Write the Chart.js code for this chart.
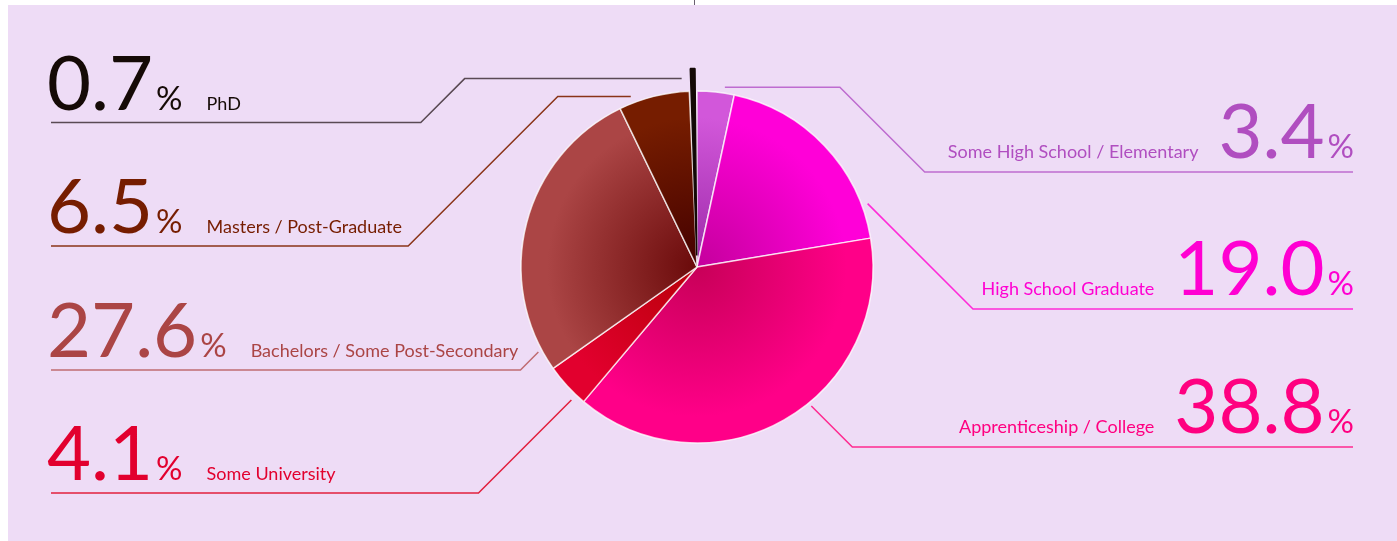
<!DOCTYPE html>
<html>
<head>
<meta charset="utf-8">
<script src="https://cdn.jsdelivr.net/npm/chart.js@4/dist/chart.umd.min.js"></script>
<style>
  html, body { margin: 0; padding: 0; background: #fff; }
  #edu-chart { display: block; }
</style>
</head>
<body>
<canvas id="edu-chart" width="1397" height="541"></canvas>
<script>
// education levels, clockwise from 12 o'clock
const categories = [
  'Some High School / Elementary',
  'High School Graduate',
  'Apprenticeship / College',
  'Some University',
  'Bachelors / Some Post-Secondary',
  'Masters / Post-Graduate',
  'PhD',
];
const shares = [3.4, 19.0, 38.8, 4.1, 27.6, 6.5, 0.7];

// slice colours: outer rim and the darker tone at the centre
const sliceColors = ['#d257da', '#ff00d8', '#ff0088', '#e2002e', '#ab4545', '#761d00', '#140a06'];
const sliceInner = ['#9c2aa8', '#c4009c', '#c80058', '#b80008', '#6a0a0a', '#440000', '#000000'];
const sliceBorders = ['rgba(255,255,255,0.75)', 'rgba(255,255,255,0.75)', 'rgba(255,255,255,0.75)',
  'rgba(255,255,255,0.75)', 'rgba(255,255,255,0.75)', 'rgba(255,255,255,0.75)', '#140a06'];
const textColors = ['#b04ec0', '#ff00d2', '#ff0080', '#e2002e', '#ab4545', '#761d00', '#150a06'];
const lineColors = ['#be6cd0', '#ff2ad8', '#ff2a90', '#e2203e', '#c06c72', '#8a3418', '#5a4a54'];

// callout layout: side, underline row, where the leader touches the slice, horizontal stub
const callouts = [
  { side: 'right', row: 172, frac: 0.72, gap: 6, stub: 115 },
  { side: 'right', row: 309, frac: 0.84, gap: 6, stub: 0 },
  { side: 'right', row: 447, frac: 0.43, gap: 4, stub: 0 },
  { side: 'left', row: 493, frac: 0.22, gap: 7, stub: 0 },
  { side: 'left', row: 370, frac: 0.07, gap: 4, stub: 0 },
  { side: 'left', row: 246, frac: 0.2, gap: 7, stub: 73 },
  { side: 'left', row: 122.5, frac: -0.85, gap: 13, stub: 217 },
];

const PIE_RADIUS = 176;
const NUM_FONT = '400 76px Lato';
const PCT_FONT = '400 33px Lato';
const LABEL_FONT = '400 18px Lato';

const backdrop = {
  id: 'backdrop',
  beforeDraw(chart) {
    const c = chart.ctx;
    c.save();
    c.fillStyle = '#ffffff';
    c.fillRect(0, 0, chart.width, chart.height);
    c.fillStyle = '#eedcf6';
    c.fillRect(8, 5, chart.width - 8, chart.height - 5);
    c.fillStyle = '#6a6070';
    c.fillRect(694, 0, 1, 5);
    c.restore();
  },
};

const calloutLabels = {
  id: 'calloutLabels',
  afterDraw(chart) {
    const c = chart.ctx;
    const arcs = chart.getDatasetMeta(0).data;
    c.save();
    arcs.forEach((arc, i) => {
      const co = callouts[i];
      const a = arc.startAngle + co.frac * (arc.endAngle - arc.startAngle);
      const r = arc.outerRadius + co.gap;
      const ax = arc.x + r * Math.cos(a);
      const ay = arc.y + r * Math.sin(a);
      const dir = co.side === 'left' ? -1 : 1;
      const sx = ax + dir * co.stub;
      const ex = sx + dir * Math.abs(co.row - ay);

      // leader line
      c.strokeStyle = lineColors[i];
      c.lineWidth = 1.5;
      c.beginPath();
      c.moveTo(ax, ay);
      c.lineTo(sx, ay);
      c.lineTo(ex, co.row);
      c.lineTo(co.side === 'left' ? 51 : 1353, co.row);
      c.stroke();

      // value, percent sign and category name
      const num = shares[i].toFixed(1);
      c.fillStyle = textColors[i];
      c.textBaseline = 'alphabetic';
      c.textAlign = 'left';
      c.font = NUM_FONT;
      const numW = c.measureText(num).width;
      c.font = PCT_FONT;
      const pctW = c.measureText('%').width;
      c.font = LABEL_FONT;
      const labW = c.measureText(categories[i]).width;

      if (co.side === 'left') {
        const base = co.row - 13;
        let x = 47;
        c.font = NUM_FONT;
        c.fillText(num, x, base);
        x += numW + 3;
        c.font = PCT_FONT;
        c.fillText('%', x, base);
        x += pctW + 24;
        c.font = LABEL_FONT;
        c.fillText(categories[i], x, base);
      } else {
        const base = co.row - 14;
        let x = 1354 - pctW;
        c.font = PCT_FONT;
        c.fillText('%', x, base);
        x -= numW + 3;
        c.font = NUM_FONT;
        c.fillText(num, x, base);
        x -= labW + 20;
        c.font = LABEL_FONT;
        c.fillText(categories[i], x, base);
      }
    });
    c.restore();
  },
};

function sliceFill(ctx) {
  const i = ctx.dataIndex;
  const area = ctx.chart.chartArea;
  if (!area || i === undefined) return sliceColors[i] || '#000';
  const cx = (area.left + area.right) / 2;
  const cy = (area.top + area.bottom) / 2;
  const g = ctx.chart.ctx.createRadialGradient(cx, cy, 0, cx, cy, PIE_RADIUS * 0.85);
  g.addColorStop(0, sliceInner[i]);
  g.addColorStop(1, sliceColors[i]);
  return g;
}

new Chart(document.getElementById('edu-chart'), {
  type: 'pie',
  data: {
    labels: categories,
    datasets: [{
      data: shares,
      backgroundColor: sliceFill,
      borderColor: sliceBorders,
      borderWidth: 1.5,
      offset: [0, 0, 0, 0, 0, 0, 46],
      radius: PIE_RADIUS,
    }],
  },
  options: {
    responsive: false,
    devicePixelRatio: 1,
    animation: false,
    layout: { padding: { left: 0, right: 3, top: 0, bottom: 7 } },
    plugins: {
      legend: { display: false },
      tooltip: { enabled: false },
    },
  },
  plugins: [backdrop, calloutLabels],
});
</script>
</body>
</html>
